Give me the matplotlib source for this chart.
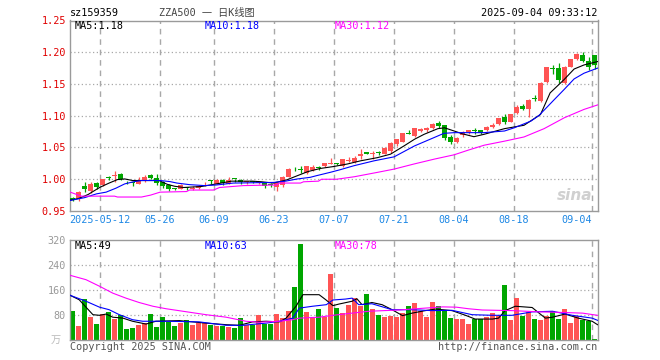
import numpy as np
import matplotlib
matplotlib.use("Agg")
import matplotlib.pyplot as plt

# ---- data (88 sessions, 2025-04-30 .. 2025-09-04) ----
date_labels = ['2025-05-12', '05-26', '06-09', '06-23', '07-07', '07-21', '08-04', '08-18', '09-04']
date_idx = [5, 15, 24, 34, 44, 54, 64, 74, 87]

opens = [0.970, 0.970, 0.990, 0.982, 0.994, 0.991, 1.004, 1.0056, 1.008, 0.9955,
         0.9945, 0.993, 0.997, 1.0067, 1.002, 0.996, 0.991, 0.9855, 0.985, 0.9865,
         0.984, 0.986, 0.9935, 0.998, 0.993, 0.999, 0.993, 1.0008, 0.999, 0.9955,
         0.9962, 0.9945, 0.994, 0.992, 0.9875, 0.991, 1.004, 1.018, 1.0155, 1.0098,
         1.015, 1.019, 1.0203, 1.0245, 1.0245, 1.0213, 1.028, 1.027, 1.037, 1.043,
         1.040, 1.0415, 1.0395, 1.0447, 1.055, 1.0588, 1.0725, 1.068, 1.076, 1.077,
         1.080, 1.088, 1.0848, 1.067, 1.0594, 1.069, 1.0744, 1.0765, 1.0775, 1.077,
         1.083, 1.0864, 1.098, 1.0906, 1.1036, 1.116, 1.110, 1.1275, 1.1228, 1.1536,
         1.174, 1.175, 1.1516, 1.1775, 1.1895, 1.1958, 1.187, 1.1958]
highs = [0.972, 0.981, 0.9953, 0.9953, 0.995, 1.001, 1.005, 1.0135, 1.010, 0.997,
         0.995, 1.003, 1.006, 1.0075, 1.008, 0.998, 0.992, 0.987, 0.992, 0.9885,
         0.989, 0.991, 0.996, 0.9995, 1.001, 1.001, 1.004, 1.001, 1.000, 0.998,
         0.998, 0.997, 0.995, 0.994, 0.995, 1.005, 1.018, 1.0195, 1.021, 1.021,
         1.022, 1.021, 1.026, 1.0333, 1.026, 1.0325, 1.035, 1.036, 1.0484, 1.0435,
         1.0445, 1.0445, 1.050, 1.058, 1.064, 1.073, 1.077, 1.081, 1.081, 1.0815,
         1.088, 1.092, 1.086, 1.069, 1.066, 1.076, 1.078, 1.080, 1.078, 1.084,
         1.088, 1.097, 1.102, 1.103, 1.1175, 1.119, 1.127, 1.1325, 1.1535, 1.1765,
         1.180, 1.183, 1.179, 1.190, 1.199, 1.201, 1.193, 1.196]
lows = [0.966, 0.9665, 0.9806, 0.979, 0.984, 0.990, 0.999, 0.9963, 0.999, 0.993,
        0.989, 0.992, 0.996, 1.001, 0.991, 0.987, 0.982, 0.983, 0.984, 0.9825,
        0.983, 0.985, 0.990, 0.993, 0.992, 0.991, 0.9925, 0.995, 0.992, 0.993,
        0.994, 0.993, 0.987, 0.988, 0.982, 0.988, 1.003, 1.0135, 1.0095, 1.009,
        1.0135, 1.0145, 1.020, 1.0235, 1.022, 1.020, 1.027, 1.026, 1.0317, 1.039,
        1.032, 1.0375, 1.039, 1.042, 1.053, 1.058, 1.0705, 1.066, 1.074, 1.074,
        1.079, 1.080, 1.0614, 1.055, 1.057, 1.067, 1.071, 1.071, 1.072, 1.0755,
        1.081, 1.085, 1.0875, 1.090, 1.103, 1.1085, 1.0985, 1.1225, 1.121, 1.152,
        1.165, 1.152, 1.150, 1.176, 1.188, 1.184, 1.172, 1.174]
closes = [0.968, 0.9795, 0.985, 0.993, 0.988, 1.000, 1.0015, 1.0072, 1.001, 0.995,
          0.994, 0.9995, 1.003, 1.002, 0.994, 0.990, 0.985, 0.985, 0.9905, 0.986,
          0.987, 0.990, 0.9945, 0.9975, 0.9995, 0.9945, 0.9995, 1.000, 0.996, 0.9965,
          0.9958, 0.996, 0.989, 0.9915, 0.9937, 1.004, 1.016, 1.0172, 1.015, 1.0203,
          1.020, 1.0185, 1.0255, 1.0258, 1.0238, 1.0317, 1.031, 1.034, 1.0395, 1.040,
          1.041, 1.041, 1.049, 1.0567, 1.063, 1.0723, 1.072, 1.080, 1.0786, 1.081,
          1.0864, 1.084, 1.0656, 1.059, 1.0645, 1.074, 1.0775, 1.076, 1.0735, 1.082,
          1.085, 1.0958, 1.0906, 1.102, 1.114, 1.110, 1.1255, 1.127, 1.1516, 1.176,
          1.1735, 1.156, 1.1775, 1.1895, 1.198, 1.187, 1.1766, 1.180]
volumes = [94, 45, 131, 74, 51, 84, 90, 68, 79, 35,
           38, 49, 53, 83, 42, 74, 59, 46, 53, 64,
           48, 55, 55, 48, 45, 45, 42, 38, 70, 49,
           49, 80, 52, 52, 84, 70, 94, 170, 307, 90,
           70, 99, 73, 211, 102, 85, 113, 134, 109, 147,
           99, 80, 74, 78, 74, 85, 109, 118, 93, 74,
           122, 109, 96, 70, 67, 67, 51, 67, 67, 74,
           86, 77, 176, 64, 134, 78, 90, 67, 64, 77,
           93, 67, 99, 54, 77, 65, 61, 4]

# moving averages as traced on the chart: (session index, value)
ma5_x = [-0.4, 1.1, 2.6, 4.5, 6.1, 7.5, 8.7, 10, 14.4, 15.8, 17, 18.5, 21.5, 24, 26.5, 30, 31.5,
         33.5, 35.7, 37.5, 39.2, 41.3, 43.5, 45.8, 48, 50.8, 53, 55.25, 57, 58.6, 60.9, 62,
         63.6, 65, 66.9, 68.6, 72, 75.25, 78, 79.6, 81.9, 83.6, 85.25, 87.5]
ma5_y = [0.967, 0.970, 0.976, 0.987, 0.994, 0.9995, 1.0005, 0.998, 0.998, 0.992, 0.989, 0.987,
         0.9886, 0.9927, 0.997, 0.997, 0.996, 0.994, 0.999, 1.0057, 1.012, 1.017, 1.020, 1.024,
         1.029, 1.034, 1.0395, 1.0525, 1.063, 1.0708, 1.0797, 1.081, 1.076, 1.0715, 1.067,
         1.0708, 1.0797, 1.085, 1.102, 1.136, 1.1567, 1.1736, 1.180, 1.1853]
ma10_x = [-0.4, 2, 4, 5.6, 7.25, 8.7, 10.3, 11.5, 14.6, 16.25, 17.4, 19.5, 22, 24, 26.8, 33.5,
          35.5, 37.5, 39.6, 40.7, 43, 44.6, 46.9, 50.25, 53.6, 57, 60.25, 61.9, 63.6, 68.6, 72,
          73.6, 76.4, 77.75, 80.25, 81.9, 83.6, 85.25, 87.5]
ma10_y = [0.9666, 0.971, 0.977, 0.9797, 0.986, 0.9927, 0.9963, 0.998, 0.998, 0.9963, 0.994,
          0.9915, 0.990, 0.991, 0.994, 0.995, 0.997, 1.0005, 1.003, 1.0057, 1.011, 1.015, 1.0213,
          1.029, 1.0353, 1.0525, 1.0656, 1.0723, 1.0734, 1.0734, 1.076, 1.081, 1.0916, 1.1005,
          1.125, 1.141, 1.158, 1.167, 1.175]
ma30_x = [-0.4, 1.5, 7, 7.5, 11.5, 13, 14.6, 19, 19.5, 23.5, 24.5, 28.5, 34, 34.5, 38, 38.5, 41,
          41.5, 44, 47, 50.9, 53.6, 56.9, 60.3, 63.6, 66, 68.6, 72, 75.25, 78.6, 82, 85.25, 87.5]
ma30_y = [0.9797, 0.9734, 0.9734, 0.972, 0.972, 0.975, 0.9797, 0.9806, 0.983, 0.983, 0.987,
          0.990, 0.991, 0.994, 0.994, 0.996, 0.997, 1.000, 1.000, 1.004, 1.011, 1.016, 1.024,
          1.0317, 1.0385, 1.046, 1.0536, 1.060, 1.0666, 1.0797, 1.097, 1.110, 1.117]

vma5_x = [-0.4, 1.1, 3.4, 4.5, 5.6, 6.7, 8.4, 10, 12.25, 13.9, 17.8, 22.25, 25.6, 27.8, 30, 32.25,
          34.5, 35.6, 37.25, 38.4, 41.1, 42.2, 43.4, 44.4, 46.6, 47.4, 48.25, 49.9, 51.6, 53.25,
          55, 56.6, 58.8, 60.5, 63.25, 65.5, 67.1, 70, 71, 72.1, 73.8, 76.6, 78.8, 80, 82.1,
          84.3, 86.6, 87.5]
vma5_y = [143, 129, 81, 79, 83, 73, 70, 60, 51, 60, 62, 54, 49, 47, 58, 60,
          58, 70, 108, 145, 145, 129, 110, 115, 124, 132, 113, 120, 113, 97,
          78, 86, 94, 99, 94, 79, 67, 67, 70, 94, 108, 104, 70, 73, 83,
          70, 60, 49]
vma10_x = [-0.4, 2.25, 4.5, 6.1, 7.8, 10, 11.7, 15.6, 21.1, 25.6, 28.4, 32.25, 34.5, 36.7, 37.8,
           40, 42.3, 43.4, 45.5, 46.6, 47.7, 49.9, 53.25, 56.6, 59.9, 63.25, 66.6, 70, 73.25,
           76.6, 80, 83.3, 86.6, 87.5]
vma10_y = [143, 124, 105, 97, 81, 65, 60, 60, 58, 47, 47, 54, 60, 70, 102,
           108, 113, 128, 131, 134, 113, 116, 97, 97, 94, 95, 81, 79, 79,
           90, 92, 79, 70, 63]
vma30_x = [-0.4, 2.25, 4.5, 6.7, 8.9, 11.1, 13.4, 15.6, 18.4, 22.25, 25.6, 28.9, 31.1, 34.5, 36.7,
           37.8, 41.1, 43.4, 46.6, 49.4, 54.4, 58, 61.7, 64, 66, 68.3, 73.3, 77.8, 82, 85, 87.5]
vma30_y = [207, 193, 172, 150, 134, 120, 108, 100, 92, 81, 73, 60, 57, 60, 65,
           70, 73, 79, 86, 92, 96, 101, 106, 105, 100, 96, 94, 90, 88, 86, 79]

price_ma_text = ['MA5:1.18', 'MA10:1.18', 'MA30:1.12']
vol_ma_text = ['MA5:49', 'MA10:63', 'MA30:78']
price_ticks = [0.95, 1.00, 1.05, 1.10, 1.15, 1.20, 1.25]
vol_ticks = [80, 160, 240, 320]

UP = '#ff5454'
DOWN = '#00a600'
GRID = '#a8a8a8'
MONO = ['DejaVu Sans Mono', 'Noto Sans CJK SC']
FS = 7.3

plt.rcParams['font.family'] = MONO

W, H = 660, 360
fig = plt.figure(figsize=(W / 100, H / 100), dpi=100)


def px_axes(x0, y0, x1, y1):
    return fig.add_axes([x0 / W, 1 - y1 / H, (x1 - x0) / W, (y1 - y0) / H])


ax = px_axes(70, 20.5, 598, 211)
vax = px_axes(70, 240, 598, 340)

x = np.arange(len(closes))
o = np.array(opens)
c = np.array(closes)
colors = np.where(c >= o, UP, DOWN)
vline_pos = np.array(date_idx) - 0.4

for a in (ax, vax):
    a.set_xlim(-0.42, 87.58)
    for s in a.spines.values():
        s.set_color('#9a9a9a')
        s.set_linewidth(1.0)
    a.tick_params(length=0, labelsize=FS)
    for xv in vline_pos:
        a.axvline(xv, color=GRID, lw=1.0, ls=(0, (4, 3.5)), zorder=0)

# ---- price panel ----
ax.vlines(x, lows, highs, colors=colors, lw=0.9, zorder=2)
body_lo = np.minimum(o, c)
body_h = np.maximum(np.abs(c - o), 0.0012)
ax.bar(x, body_h, bottom=body_lo, width=0.82, color=colors, lw=0, zorder=3)
ax.plot(ma5_x, ma5_y, color='black', lw=0.8, zorder=4)
ax.plot(ma10_x, ma10_y, color='#0000ff', lw=0.8, zorder=4)
ax.plot(ma30_x, ma30_y, color='#ff00ff', lw=0.8, zorder=4)
ax.set_ylim(0.95, 1.25)
ax.set_yticks(price_ticks, labels=[f'{v:.2f}' for v in price_ticks])
ax.tick_params(axis='y', colors='#e00000', pad=3)
for v in price_ticks[1:-1]:
    ax.axhline(v, color=GRID, lw=0.9, ls=(0, (1, 2)), zorder=0)
ax.set_xticks(vline_pos, labels=date_labels)
ax.tick_params(axis='x', colors='#1e88e5', pad=3)
ax.get_xticklabels()[-1].set_horizontalalignment('right')
fig.text(592 / W, 1 - 196 / H, 'sina', ha='right', va='center', fontsize=11,
         fontstyle='italic', fontweight='bold', color='#d0d0d0', family='DejaVu Sans')

# ---- volume panel ----
vax.bar(x, volumes, width=0.82, color=colors, lw=0, zorder=2)
vax.plot(vma5_x, vma5_y, color='black', lw=0.8, zorder=4)
vax.plot(vma10_x, vma10_y, color='#0000ff', lw=0.8, zorder=4)
vax.plot(vma30_x, vma30_y, color='#ff00ff', lw=0.8, zorder=4)
vax.set_ylim(0, 320)
vax.set_yticks(vol_ticks, labels=[str(v) for v in vol_ticks])
vax.tick_params(axis='y', colors='#999999', pad=3)
vax.set_xticks([])
for v in vol_ticks[:-1]:
    vax.axhline(v, color=GRID, lw=0.9, ls=(0, (1, 2)), zorder=0)

# ---- texts ----
def ftext(px, py, s, **kw):
    fig.text(px / W, 1 - py / H, s, fontsize=FS, va='center', **kw)


ftext(70, 13, 'sz159359', color='black')
ftext(207, 13, 'ZZA500 一 日K线图', color='#444444', ha='center')
ftext(597, 13, '2025-09-04 09:33:12', color='black', ha='right')
for px, s, col in zip([74.5, 204.5, 334.5], price_ma_text, ['black', '#0000ff', '#ff00ff']):
    ftext(px, 26, s, color=col)
for px, s, col in zip([74.5, 204.5, 334.5], vol_ma_text, ['black', '#0000ff', '#ff00ff']):
    ftext(px, 246, s, color=col)
ftext(56, 340, '万', color='#bbbbbb', ha='center')
ftext(70, 347, 'Copyright 2025 SINA.COM', color='#555555')
ftext(597, 347, 'http://finance.sina.com.cn', color='#555555', ha='right')

fig.savefig('out.png', dpi=100)
